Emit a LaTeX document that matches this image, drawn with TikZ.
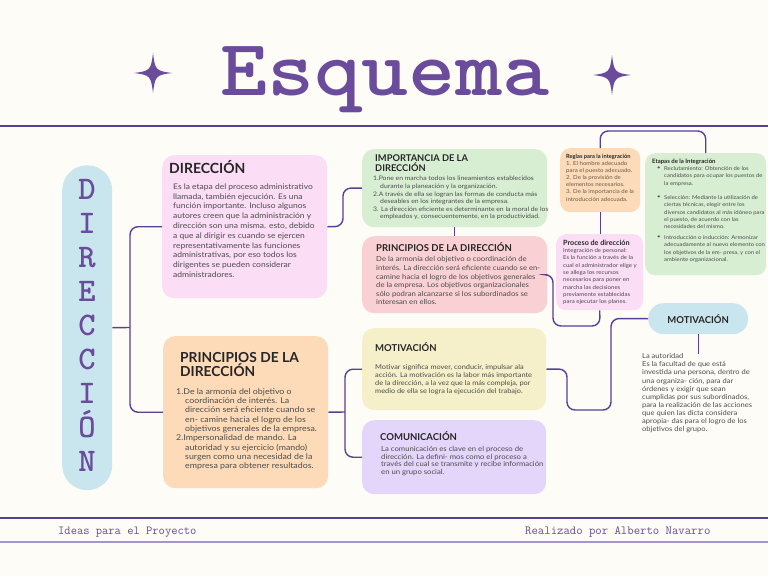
\documentclass[tikz,border=0pt]{standalone}
\usepackage{fontspec}
\setmainfont{Lato}
\newfontfamily\bodyf{Lato}[FakeStretch=1.1]
\usetikzlibrary{calc}
\definecolor{bgc}{HTML}{FDFCF7}
\definecolor{lineP}{HTML}{5B3F97}
\definecolor{lineL}{HTML}{A794CF}
\definecolor{titleP}{HTML}{6A4B9C}
\definecolor{blueP}{HTML}{C9E6EF}
\definecolor{pinkA}{HTML}{FBDDF5}
\definecolor{peachA}{HTML}{FDDBB8}
\definecolor{greenA}{HTML}{D8EED3}
\definecolor{roseA}{HTML}{F9D0D3}
\definecolor{yellowA}{HTML}{F5F0C9}
\definecolor{lavA}{HTML}{E4D5FB}
\definecolor{headc}{HTML}{262626}
\definecolor{bodyc}{HTML}{4C4C4C}
\definecolor{brownc}{HTML}{6A5A4C}
\tikzset{
  box/.style={anchor=north west, inner sep=0pt, draw=none, rounded corners=12pt},
  sbox/.style={anchor=north west, inner sep=0pt, draw=none, rounded corners=10pt},
  conn/.style={draw=lineP, line width=1.4pt, rounded corners=8pt},
  txt/.style={anchor=north west, inner sep=0pt, align=left, text=bodyc},
  hd/.style={anchor=base west, inner sep=0pt, text=headc},
  slab/.style={inner sep=0pt, text=titleP},
  star4/.pic={\fill[titleP] (0,-20) .. controls (2,-3) and (3,-2) .. (19,0)
     .. controls (3,2) and (2,3) .. (0,20) .. controls (-2,3) and (-3,2) .. (-19,0)
     .. controls (-3,-2) and (-2,-3) .. (0,-20) -- cycle;}
}
\newcommand{\bsz}[2]{\bodyf\fontsize{#1}{#2}\selectfont}
\begin{document}
\begin{tikzpicture}[x=1pt,y=-1pt]
\useasboundingbox (0,0) rectangle (768,576);
\fill[bgc] (0,0) rectangle (768,576);

% title
\node[slab, anchor=base] (title) at (385,95) {\scalebox{1.12}[1]{\fontsize{80}{80}\selectfont\ttfamily\bfseries Esquema}};
\pic at (153,73) {star4};
\pic at (612,75) {star4};
\draw[lineP, line width=1.3pt] (0,126) -- (768,126);

% footer
\draw[lineP, line width=1.3pt] (0,518) -- (768,518);
\draw[lineL, line width=1.3pt] (0,542) -- (768,542);
\node[slab, anchor=base west] (foot1) at (58,534) {\fontsize{12.2}{12}\selectfont\ttfamily Ideas para el Proyecto};
\node[slab, anchor=base west] (foot2) at (525,534) {\fontsize{12.4}{12}\selectfont\ttfamily Realizado por Alberto Navarro};

% vertical pill
\node[anchor=north west, fill=blueP, rounded corners=25pt, minimum width=50pt, minimum height=325pt, inner sep=0pt] (pill) at (62,165) {};
\foreach \l [count=\i from 0] in {D,I,R,E,C,C,I,Ó,N}{
  \node[slab, anchor=base] (L\i) at (87,{199+34*\i}) {\fontsize{33}{33}\selectfont\ttfamily\bfseries \l};
}

% boxes
\node[box, fill=pinkA, minimum width=165pt, minimum height=143pt] (dir) at (162,155) {};
\node[box, fill=peachA, minimum width=165pt, minimum height=152pt] (pri) at (163,336) {};
\node[box, fill=greenA, minimum width=185pt, minimum height=78pt] (imp) at (362,149) {};
\node[box, fill=roseA, minimum width=185pt, minimum height=77pt] (prd) at (362,236) {};
\node[box, fill=yellowA, minimum width=184pt, minimum height=82pt] (mot) at (362,328) {};
\node[box, fill=lavA, minimum width=184pt, minimum height=74pt] (com) at (362,420) {};
\node[sbox, fill=peachA, minimum width=80pt, minimum height=64pt] (reg) at (560,148) {};
\node[sbox, fill=greenA, minimum width=121pt, minimum height=122pt] (etp) at (645,153) {};
\node[sbox, fill=pinkA, minimum width=87pt, minimum height=76pt] (pro) at (556,234) {};
\node[anchor=north west, fill=blueP, rounded corners=15.5pt, minimum width=100pt, minimum height=31pt, inner sep=0pt, text=headc, font=\fontsize{9.5}{10}\selectfont\bfseries] (motp) at (648,303) {MOTIVACIÓN};

% connectors
\coordinate (br) at (130,327.5);
\draw[conn] (dir.west) -| (br) |- (pri.west);
\draw[conn] (pill.east) -- (br);
\draw[conn] (dir.east) -- (343,226.5) -- (343,188) -- (imp.west);
\draw[conn] (imp.south) -- (prd.north);
\coordinate (bl) at (345,412);
\draw[conn] (mot.west) -| (bl) |- (com.west);
\draw[conn] (pri.east) -- (bl);
\draw[conn] (prd.east) -- (553,274.5) -- (553,326) -- (600,326) -- (pro.south);
\draw[conn] (mot.east) -- (567,369) -- (567,410) -- (611,410) -- (611,318.5) -- (motp.west);
\draw[conn] (reg.south) -- (reg.south |- pro.north);
\draw[conn] (reg.north) -- ++(0,-17) -| (etp.north);

% DIRECCION
\node[hd, font=\fontsize{14}{14}\selectfont\bfseries] (dirT) at (169,173) {DIRECCIÓN};
\node[txt, font=\bsz{7.7}{9.8}] (dirB) at (173,183.4) {Es la etapa del proceso administrativo\\llamada, también ejecución. Es una\\función importante. Incluso algunos\\autores creen que la administración y\\dirección son una misma. esto, debido\\a que al dirigir es cuando se ejercen\\representativamente las funciones\\administrativas, por eso todos los\\dirigentes se pueden considerar\\administradores.};

% PRINCIPIOS left
\node[hd, font=\fontsize{13.8}{13.8}\selectfont\bfseries] (priT1) at (180,362.5) {PRINCIPIOS DE LA};
\node[hd, font=\fontsize{13.8}{13.8}\selectfont\bfseries] (priT2) at (180,376) {DIRECCIÓN};
\node[txt, font=\bsz{8}{9.3}] (priB) at (176,388.2) {1.De la armonía del objetivo o\\\hspace*{9pt}coordinación de interés. La\\\hspace*{9pt}dirección será eficiente cuando se\\\hspace*{9pt}en- camine hacia el logro de los\\\hspace*{9pt}objetivos generales de la empresa.\\2.Impersonalidad de mando. La\\\hspace*{9pt}autoridad y su ejercicio (mando)\\\hspace*{9pt}surgen como una necesidad de la\\\hspace*{9pt}empresa para obtener resultados.};

% IMPORTANCIA
\node[txt, text=headc, font=\fontsize{9.3}{8.4}\selectfont\bfseries] (impT) at (375,154.6) {IMPORTANCIA DE LA\\DIRECCIÓN};
\node[txt, font=\bsz{6.2}{7.6}] (impB) at (373,176.2) {1.Pone en marcha todos los lineamientos establecidos\\\hspace*{7pt}durante la planeación y la organización.\\2.A través de ella se logran las formas de conducta más\\\hspace*{7pt}deseables en los integrantes de la empresa.\\3. La dirección eficiente es determinante en la moral de los\\\hspace*{7pt}empleados y, consecuentemente, en la productividad.};

% PRINCIPIOS right
\node[hd, font=\fontsize{9.5}{9}\selectfont\bfseries] (prdT) at (376,251.3) {PRINCIPIOS DE LA DIRECCIÓN};
\node[txt, font=\bsz{7}{8.6}] (prdB) at (376,256.6) {De la armonía del objetivo o coordinación de\\interés. La dirección será eficiente cuando se en-\\camine hacia el logro de los objetivos generales\\de la empresa. Los objetivos organizacionales\\sólo podran alcanzarse si los subordinados se\\interesan en ellos.};

% MOTIVACION
\node[hd, font=\fontsize{9.5}{9}\selectfont\bfseries] (motT) at (375,351.4) {MOTIVACIÓN};
\node[txt, font=\bsz{6.7}{8}] (motB) at (375,364.7) {Motivar significa mover, conducir, impulsar ala\\acción. La motivación es la labor más importante\\de la dirección, a la vez que la más compleja, por\\medio de ella se logra la ejecución del trabajo.};

% COMUNICACION
\node[hd, font=\fontsize{9.5}{9}\selectfont\bfseries] (comT) at (380,440.4) {COMUNICACIÓN};
\node[txt, font=\bsz{7}{7.8}] (comB) at (381,446) {La comunicación es clave en el proceso de\\dirección. La defini- mos como el proceso a\\través del cual se transmite y recibe información\\en un grupo social.};

% Reglas
\node[hd, font=\fontsize{5.7}{6}\selectfont\bfseries] (regT) at (566,158) {Reglas para la integración};
\node[txt, text=brownc, font=\bsz{5.5}{7.2}] (regB) at (566,160.8) {1. El hombre adecuado\\para el puesto adecuado.\\2. De la provisión de\\elementos necesarios.\\3. De la importancia de la\\introducción adecuada.};

% Proceso
\node[hd, font=\fontsize{7.2}{7}\selectfont\bfseries] (proT) at (563,245.5) {Proceso de dirección};
\node[txt, font=\bsz{5.5}{7.3}] (proB) at (563,248.3) {Integración de personal:\\Es la función a través de la\\cual el administrador elige y\\se allega los recursos\\necesarios para poner en\\marcha las decisiones\\previamente establecidas\\para ejecutar los planes.};

% Etapas
\node[hd, font=\fontsize{6}{6}\selectfont\bfseries] (etpT) at (652,163) {Etapas de la Integración};
\node[txt, font=\bsz{5.35}{7.3}] (etp1) at (657,166.3) {•};
\node[txt, font=\bsz{5.35}{7.3}] (etp1t) at (664,166.3) {Reclutamiento: Obtención de los\\candidatos para ocupar los puestos de\\la empresa.};
\node[txt, font=\bsz{5.35}{7.3}] (etp2) at (657,195.3) {•};
\node[txt, font=\bsz{5.35}{7.3}] (etp2t) at (664,195.3) {Selección: Mediante la utilización de\\ciertas técnicas, elegir entre los\\diversos candidatos al más idóneo para\\el puesto, de acuerdo con las\\necesidades del mismo.};
\node[txt, font=\bsz{5.35}{7.3}] (etp3) at (657,235.3) {•};
\node[txt, font=\bsz{5.35}{7.3}] (etp3t) at (664,235.3) {Introducción o inducción: Armonizar\\adecuadamente al nuevo elemento con\\los objetivos de la em- presa, y con el\\ambiente organizacional.};

% Autoridad
\node[txt, font=\bsz{6.85}{8.1}] (aut) at (642,353.5) {La autoridad\\Es la facultad de que está\\investida una persona, dentro de\\una organiza- ción, para dar\\órdenes y exigir que sean\\cumplidas por sus subordinados,\\para la realización de las acciones\\que quien las dicta considera\\apropia- das para el logro de los\\objetivos del grupo.};
\draw[conn] (motp.south) -- (motp.south |- aut.north);
\end{tikzpicture}
\end{document}
